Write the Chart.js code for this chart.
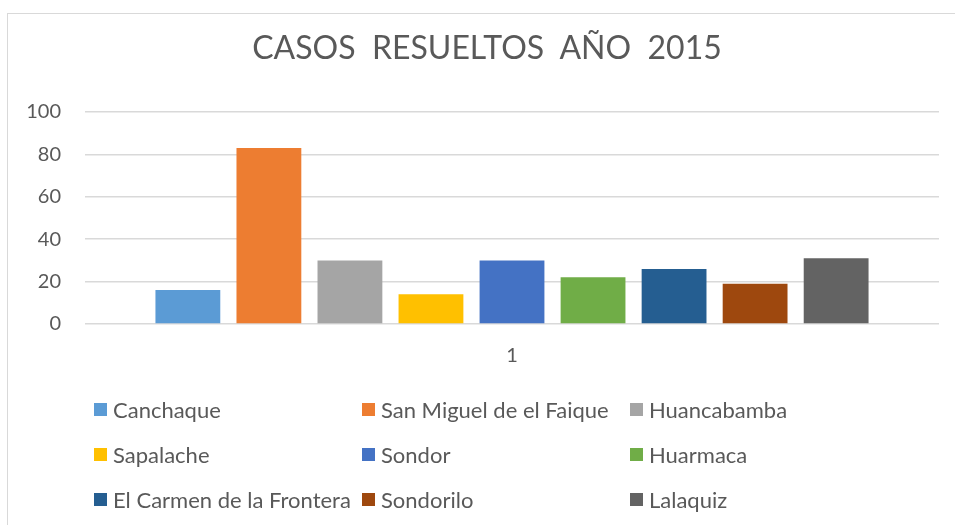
<!DOCTYPE html>
<html>
<head>
<meta charset="utf-8">
<script src="https://cdn.jsdelivr.net/npm/chart.js@4/dist/chart.umd.min.js"></script>
<style>
  html, body { margin:0; padding:0; background:#fff; }
  #wrap { position:relative; width:955px; height:525px; overflow:hidden; }
  #frame { position:absolute; left:7px; top:13px; width:1000px; height:600px; border-left:1px solid #d9d9d9; border-top:1px solid #d9d9d9; }
  #title { position:absolute; left:187px; width:600px; top:27px; text-align:center; font-family:Lato, sans-serif; font-size:32px; line-height:40px; color:#595959; white-space:pre; }
  #legend { position:absolute; left:0; top:0; width:955px; height:525px; font-family:Lato, sans-serif; font-size:22px; color:#595959; }
  .lg-item { position:absolute; display:flex; align-items:center; white-space:nowrap; height:26px; }
  .lg-box { width:13px; height:13px; margin-right:6px; flex-shrink:0; }
</style>
</head>
<body>
<div id="wrap">
  <div id="frame"></div>
  <canvas id="c" width="955" height="525"></canvas>
  <div id="title">CASOS  RESUELTOS  AÑO  2015</div>
  <div id="legend"></div>
</div>
<script>
'use strict';

const categories = ['1'];
const seriesNames = ['Canchaque', 'San Miguel de el Faique', 'Huancabamba', 'Sapalache', 'Sondor', 'Huarmaca', 'El Carmen de la Frontera', 'Sondorilo', 'Lalaquiz'];
const seriesValues = [16, 83, 30, 14, 30, 22, 26, 19, 31];
const seriesColors = ['#5B9BD5', '#ED7D31', '#A5A5A5', '#FFC000', '#4472C4', '#70AD47', '#255E91', '#9E480E', '#636363'];
const yTicks = [0, 20, 40, 60, 80, 100];

const textColor = '#595959';
const fontFam = 'Lato, sans-serif';

const datasets = seriesNames.map((name, i) => ({
  label: name,
  data: [seriesValues[i]],
  backgroundColor: seriesColors[i],
  borderWidth: 0,
  categoryPercentage: 0.854,
  barPercentage: 0.8
}));

const chart = new Chart(document.getElementById('c').getContext('2d'), {
  type: 'bar',
  data: { labels: categories, datasets },
  options: {
    responsive: false,
    animation: false,
    layout: { padding: { left: 0, right: 16, top: 112, bottom: 0 } },
    plugins: {
      legend: { display: false },
      tooltip: { enabled: false },
      title: { display: false }
    },
    scales: {
      x: {
        grid: { display: false },
        border: { display: false },
        ticks: { color: textColor, font: { family: fontFam, size: 20 }, padding: 12 },
        afterFit(scale) { scale.height = 201; }
      },
      y: {
        min: 0, max: 100,
        afterBuildTicks(scale) { scale.ticks = yTicks.map(v => ({ value: v })); },
        grid: { color: '#d9d9d9', lineWidth: 1.5, drawTicks: false },
        border: { display: false },
        ticks: { color: textColor, font: { family: fontFam, size: 20 }, padding: 24 },
        afterFit(scale) { scale.width = 85; }
      }
    }
  }
});

// legend in 3 columns like the original
const legendEl = document.getElementById('legend');
const colX = [94, 362, 630];
const rowY = [409, 454, 499];
chart.data.datasets.forEach((ds, i) => {
  const item = document.createElement('div');
  item.className = 'lg-item';
  item.style.left = colX[i % 3] + 'px';
  item.style.top = (rowY[Math.floor(i / 3)] - 13) + 'px';
  item.innerHTML = `<span class="lg-box" style="background:${ds.backgroundColor}"></span><span>${ds.label}</span>`;
  legendEl.appendChild(item);
});
</script>
</body>
</html>
